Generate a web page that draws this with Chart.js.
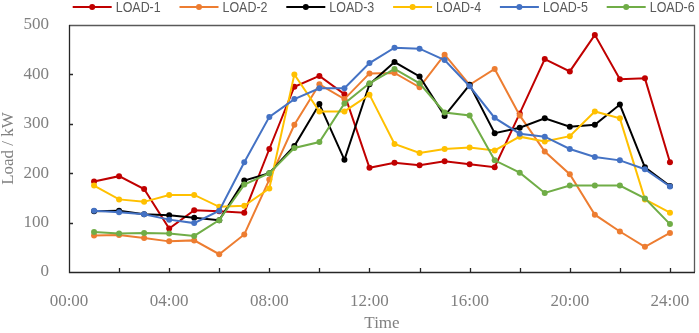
<!DOCTYPE html>
<html>
<head>
<meta charset="utf-8">
<script src="https://cdn.jsdelivr.net/npm/chart.js@4.4.1/dist/chart.umd.min.js"></script>
<style>
html,body{margin:0;padding:0;background:#fff;}
#wrap{position:relative;width:699px;height:333px;}
</style>
</head>
<body>
<div id="wrap"><canvas id="c" width="699" height="333"></canvas></div>
<script>
const hours = [1,2,3,4,5,6,7,8,9,10,11,12,13,14,15,16,17,18,19,20,21,22,23,24];
const seriesNames = ['LOAD-1','LOAD-2','LOAD-3','LOAD-4','LOAD-5','LOAD-6'];
const load1 = [183,194,168,88,125,123,120,249,375,397,360,211,221,216,224,218,212,321,431,406,480,390,392,222];
const load2 = [74,75,69,62,64,36,76,187,298,380,350,402,403,374,440,379,411,317,244,198,116,82,51,79];
const load3 = [123,124,117,115,110,105,185,200,255,340,227,380,425,396,316,379,281,292,311,294,298,339,212,174];
const load4 = [175,147,142,156,156,132,134,169,400,325,325,359,259,241,249,252,246,274,264,275,325,311,147,120];
const load5 = [124,121,117,106,99,124,222,314,350,372,372,423,454,452,429,376,312,280,274,249,233,226,208,173];
const load6 = [81,78,79,78,73,105,177,200,251,263,341,382,411,382,323,317,226,201,160,175,175,175,149,97];
const xTickValues = [0,2,4,6,8,10,12,14,16,18,20,22,24];
const xTickLabels = ['00:00','04:00','08:00','12:00','16:00','20:00','24:00'];
const yTickValues = [0,100,200,300,400,500];
const colors = ['#C00000','#ED7D31','#000000','#FFC000','#4472C4','#70AD47'];
const allLoads = [load1,load2,load3,load4,load5,load6];

const serif = "'Liberation Serif','Times New Roman',serif";
const legendFont = "15.5px 'Liberation Sans Narrow','Liberation Sans',Arial,sans-serif";

const datasets = allLoads.map((arr,i)=>({
  label: seriesNames[i],
  data: hours.map((h,j)=>({x:h,y:arr[j]})),
  borderColor: colors[i],
  backgroundColor: colors[i],
  borderWidth: 2,
  pointRadius: 3,
  pointBorderWidth: 0,
  pointBackgroundColor: colors[i],
  tension: 0,
  order: 6 - i
}));

const framePlugin = {
  id:'frame',
  beforeDatasetsDraw(chart){
    const {ctx, chartArea:a, scales:{x,y}} = chart;
    ctx.save();
    ctx.strokeStyle = '#595959';
    ctx.lineWidth = 1.3;
    ctx.beginPath();
    ctx.moveTo(a.left, a.top+0.5); ctx.lineTo(a.right-0.5, a.top+0.5); ctx.lineTo(a.right-0.5, a.bottom);
    ctx.stroke();
    ctx.strokeStyle = '#262626';
    ctx.lineWidth = 1.3;
    ctx.beginPath();
    ctx.moveTo(a.left+0.5, a.top); ctx.lineTo(a.left+0.5, a.bottom+0.5); ctx.lineTo(a.right, a.bottom+0.5);
    ctx.stroke();
    ctx.beginPath();
    xTickValues.forEach(v=>{ if(v===0) return; const px=Math.round(x.getPixelForValue(v))+0.5; ctx.moveTo(px,a.bottom); ctx.lineTo(px,a.bottom-4); });
    yTickValues.forEach(v=>{ if(v===0||v===500) return; const py=Math.round(y.getPixelForValue(v))+0.5; ctx.moveTo(a.left,py); ctx.lineTo(a.left+4,py); });
    ctx.stroke();
    ctx.restore();
  },
  afterDraw(chart){
    const ctx = chart.ctx;
    ctx.save();
    const startX = 72.7, pitch = 106.8, lineLen = 39, cy = 7;
    ctx.font = legendFont;
    ctx.textBaseline = 'middle';
    ctx.textAlign = 'left';
    seriesNames.forEach((name,i)=>{
      const x0 = startX + i*pitch;
      ctx.strokeStyle = colors[i];
      ctx.lineWidth = 2;
      ctx.beginPath(); ctx.moveTo(x0,cy); ctx.lineTo(x0+lineLen,cy); ctx.stroke();
      ctx.fillStyle = colors[i];
      ctx.beginPath(); ctx.arc(x0+lineLen/2,cy,3,0,Math.PI*2); ctx.fill();
      ctx.fillStyle = '#595959';
      ctx.fillText(name, x0+lineLen+4, cy+1, 45);
    });
    ctx.restore();
  }
};

new Chart(document.getElementById('c'), {
  type:'line',
  data:{datasets},
  plugins:[framePlugin],
  options:{
    responsive:false,
    animation:false,
    events:[],
    layout:{padding:{top:25,left:0,right:2,bottom:0}},
    plugins:{legend:{display:false},tooltip:{enabled:false}},
    scales:{
      x:{
        type:'linear', min:0, max:25,
        afterBuildTicks(s){ s.ticks = xTickValues.map(v=>({value:v})); },
        afterFit(s){ s.height = 61; s.paddingLeft = 0; s.paddingRight = 0; },
        grid:{display:false, drawTicks:false},
        border:{display:false},
        ticks:{
          autoSkip:false, maxRotation:0, padding:19,
          color:'#808080',
          font:{family:serif,size:17},
          callback:(v)=> (v%4===0 ? xTickLabels[v/4] : '')
        },
        title:{display:true,text:'Time',color:'#808080',font:{family:serif,size:17},padding:{top:0,bottom:-1}}
      },
      y:{
        min:0,max:500,
        afterBuildTicks(s){ s.ticks = yTickValues.map(v=>({value:v})); },
        afterFit(s){ s.width = 69; s.paddingTop = 0; s.paddingBottom = 0; },
        grid:{display:false, drawTicks:false},
        border:{display:false},
        ticks:{padding:20,color:'#808080',font:{family:serif,size:17}},
        title:{display:true,text:'Load / kW',color:'#808080',font:{family:serif,size:17,lineHeight:1.06},padding:{top:0,bottom:0}}
      }
    }
  }
});
</script>
</body>
</html>
